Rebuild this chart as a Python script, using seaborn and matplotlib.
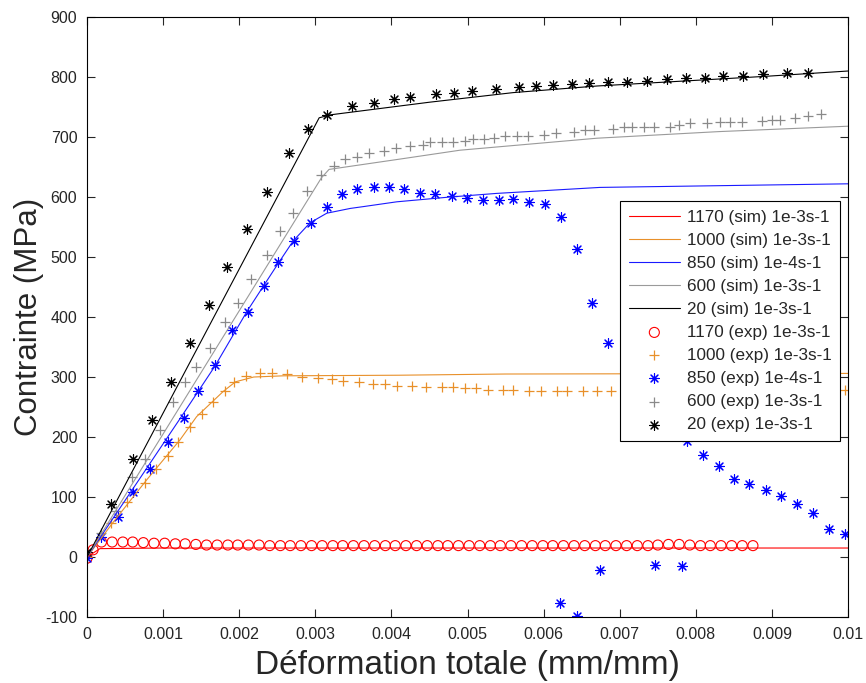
import matplotlib
matplotlib.use("Agg")
import matplotlib.pyplot as plt
import seaborn as sns

# ---- simulated curves (sim) ----
x_sim_1170 = [0, 0.00017, 0.001, 0.01]
y_sim_1170 = [0, 14, 15, 15]

x_sim_1000 = [0, 0.00035, 0.00078, 0.00122, 0.00144, 0.00179, 0.00195, 0.00219, 0.00258, 0.0041, 0.0055, 0.01]
y_sim_1000 = [0, 59, 128, 195, 234, 276, 292, 300, 302, 303, 305, 306]

x_sim_850 = [0, 0.00124, 0.00168, 0.0021, 0.00232, 0.00251, 0.00271, 0.00293, 0.00315, 0.00346, 0.00363,
             0.00407, 0.00477, 0.00538, 0.00674, 0.01]
y_sim_850 = [0, 234, 318, 409, 452, 489, 527, 557, 573, 581, 584, 592, 600, 606, 616, 622]

x_sim_600 = [0, 0.00308, 0.00318, 0.0041, 0.0049, 0.0067, 0.0083, 0.01]
y_sim_600 = [0, 632, 646, 663, 678, 698, 709, 718]

x_sim_20 = [0, 0.003, 0.00305, 0.0032, 0.0045, 0.0056, 0.0067, 0.0078, 0.0089, 0.01]
y_sim_20 = [0, 720, 732, 737, 758, 774, 785, 793, 801, 810]

# ---- experimental points (exp) ----
x_exp_1170 = [0, 0.00008, 0.00019, 0.00033, 0.00047, 0.00060, 0.00074, 0.00088, 0.00102, 0.00116, 0.00129,
              0.00143, 0.00157, 0.00171, 0.00185, 0.00198, 0.00212, 0.00226, 0.00240, 0.00254, 0.00267,
              0.00281, 0.00295, 0.00309, 0.00323, 0.00336, 0.00350, 0.00364, 0.00378, 0.00392, 0.00405,
              0.00419, 0.00433, 0.00447, 0.00461, 0.00474, 0.00488, 0.00502, 0.00516, 0.00530, 0.00543,
              0.00557, 0.00571, 0.00585, 0.00599, 0.00612, 0.00626, 0.00640, 0.00654, 0.00668, 0.00681,
              0.00695, 0.00709, 0.00723, 0.00737, 0.00750, 0.00764, 0.00778, 0.00792, 0.00806, 0.00819,
              0.00833, 0.00847, 0.00861, 0.00875]
y_exp_1170 = [-2, 12, 25, 25, 25, 25, 24, 23, 23, 22, 22,
              21, 20, 20, 20, 20, 20, 20, 19, 19, 19,
              19, 19, 19, 19, 19, 19, 19, 19, 19, 19,
              19, 19, 19, 19, 19, 19, 19, 19, 19, 19,
              19, 19, 19, 19, 19, 19, 19, 19, 19, 19,
              19, 19, 19, 19, 20, 21, 21, 20, 19, 19,
              19, 19, 19, 19]

x_exp_1000 = [0, 0.00032, 0.00053, 0.00076, 0.00091, 0.00106, 0.0012, 0.00135, 0.00151, 0.00165, 0.00181,
              0.00193, 0.00209, 0.00227, 0.00243, 0.00263, 0.00282, 0.00304, 0.00322, 0.00336, 0.00358,
              0.00376, 0.00392, 0.00407, 0.00427, 0.00446, 0.00466, 0.00481, 0.00497, 0.00511, 0.00527,
              0.00547, 0.0056, 0.00581, 0.00596, 0.00617, 0.00631, 0.00652, 0.0067, 0.00689, 0.00996]
y_exp_1000 = [0, 57, 91, 123, 146, 168, 191, 216, 238, 259, 276,
              291, 301, 307, 307, 305, 300, 299, 296, 293, 291,
              288, 288, 285, 285, 283, 283, 283, 281, 281, 278,
              278, 278, 277, 276, 277, 276, 276, 276, 277, 278]

x_exp_850 = [0, 0.00018, 0.00041, 0.0006, 0.00083, 0.00106, 0.00127, 0.00146, 0.00168, 0.0019, 0.00211,
             0.00232, 0.00251, 0.00272, 0.00294, 0.00315, 0.00335, 0.00355, 0.00377, 0.00397, 0.00417,
             0.00437, 0.00457, 0.00479, 0.00499, 0.0052, 0.00541, 0.0056, 0.00581, 0.00602, 0.00623,
             0.00644, 0.00664, 0.00685, 0.00788, 0.00809, 0.0083, 0.0085, 0.0087, 0.00892, 0.00912,
             0.00933, 0.00954, 0.00975, 0.00996,
             0.00621, 0.00644, 0.00674, 0.00746, 0.00782]
y_exp_850 = [-2, 34, 66, 108, 146, 191, 231, 276, 320, 378, 409,
             452, 491, 527, 557, 583, 605, 613, 616, 616, 613,
             607, 605, 602, 599, 595, 595, 596, 592, 589, 566,
             513, 423, 356, 193, 170, 152, 130, 121, 111, 102,
             88, 74, 47, 39,
             -76, -98, -22, -13, -15]

x_exp_600 = [0, 0.00019, 0.00038, 0.00059, 0.00076, 0.00096, 0.00113, 0.00129, 0.00143, 0.00161, 0.00181,
             0.00198, 0.00216, 0.00236, 0.00254, 0.0027, 0.00289, 0.00308, 0.00324, 0.00339, 0.00355,
             0.00371, 0.00390, 0.00406, 0.00425, 0.00441, 0.00451, 0.00466, 0.00481, 0.00497, 0.00507,
             0.00521, 0.00535, 0.00549, 0.00565, 0.0058, 0.006, 0.00616, 0.0064, 0.00654, 0.00666,
             0.00691, 0.00705, 0.00716, 0.00732, 0.00745, 0.00766, 0.00778, 0.00792, 0.00814, 0.00832,
             0.00845, 0.0086, 0.00887, 0.009, 0.00911, 0.0093, 0.00948, 0.00965]
y_exp_600 = [3, 40, 76, 134, 164, 212, 259, 291, 316, 349, 391,
             424, 464, 503, 544, 574, 610, 637, 651, 663, 667,
             673, 677, 682, 685, 687, 691, 691, 692, 694, 696,
             696, 698, 701, 701, 701, 703, 706, 709, 712, 712,
             714, 716, 716, 717, 717, 717, 720, 723, 724, 725,
             725, 725, 727, 728, 728, 732, 735, 738]

x_exp_20 = [0, 0.00032, 0.0006, 0.00085, 0.0011, 0.00135, 0.0016, 0.00184, 0.0021, 0.00236, 0.00266,
            0.00291, 0.00315, 0.00348, 0.00377, 0.00404, 0.00425, 0.00459, 0.00482, 0.00506, 0.00537,
            0.00568, 0.0059, 0.00612, 0.00637, 0.0066, 0.00685, 0.0071, 0.00736, 0.00762, 0.00787,
            0.00812, 0.00836, 0.00862, 0.00888, 0.0092, 0.00947]
y_exp_20 = [9, 88, 163, 228, 292, 357, 420, 483, 546, 609, 673,
            713, 737, 751, 757, 763, 767, 772, 774, 777, 780,
            784, 785, 787, 789, 790, 791, 792, 794, 796, 799,
            799, 802, 802, 805, 806, 807]

xticks = [0, 0.001, 0.002, 0.003, 0.004, 0.005, 0.006, 0.007, 0.008, 0.009, 0.01]
xtick_labels = ['0', '0.001', '0.002', '0.003', '0.004', '0.005', '0.006', '0.007', '0.008', '0.009', '0.01']
yticks = [-100, 0, 100, 200, 300, 400, 500, 600, 700, 800, 900]

sns.set_style("ticks")
plt.rcParams['font.family'] = ['Liberation Sans', 'DejaVu Sans']
plt.rcParams['axes.unicode_minus'] = False

fig = plt.figure(figsize=(8.66, 6.83), dpi=100)
ax = fig.add_axes([0.1005, 0.0966, 0.8788, 0.8785])

red = '#ff0000'
orange = '#e8902a'
blue = '#1a1aff'
gray = '#9a9a9a'
black = '#000000'
asterisk = (8, 2, 0)

# simulations
sims = [(x_sim_1170, y_sim_1170, red, '1170 (sim) 1e-3s-1'),
        (x_sim_1000, y_sim_1000, orange, '1000 (sim) 1e-3s-1'),
        (x_sim_850, y_sim_850, blue, '850 (sim) 1e-4s-1'),
        (x_sim_600, y_sim_600, gray, '600 (sim) 1e-3s-1'),
        (x_sim_20, y_sim_20, black, '20 (sim) 1e-3s-1')]
for xs, ys, c, lab in sims:
    sns.lineplot(x=xs, y=ys, color=c, linewidth=0.8, label=lab, ax=ax, sort=False, estimator=None)

# experiments
sns.scatterplot(x=x_exp_1170, y=y_exp_1170, marker='o', s=52, facecolor='none', edgecolor=red,
                linewidth=0.8, label='1170 (exp) 1e-3s-1', ax=ax)
sns.scatterplot(x=x_exp_1000, y=y_exp_1000, marker='+', s=55, color=orange, linewidth=0.9,
                label='1000 (exp) 1e-3s-1', ax=ax)
sns.scatterplot(x=x_exp_850, y=y_exp_850, marker=asterisk, s=50, color='#0000ff', linewidth=0.8,
                label='850 (exp) 1e-4s-1', ax=ax)
sns.scatterplot(x=x_exp_600, y=y_exp_600, marker='+', s=55, color='#8a8a8a', linewidth=0.9,
                label='600 (exp) 1e-3s-1', ax=ax)
sns.scatterplot(x=x_exp_20, y=y_exp_20, marker=asterisk, s=50, color=black, linewidth=0.8,
                label='20 (exp) 1e-3s-1', ax=ax)

ax.set_xlim(0, 0.01)
ax.set_ylim(-100, 900)
ax.set_xticks(xticks)
ax.set_xticklabels(xtick_labels)
ax.set_yticks(yticks)
ax.tick_params(direction='in', top=True, right=True, length=6, width=0.8, labelsize=11.5, pad=7)
for sp in ax.spines.values():
    sp.set_visible(True)
    sp.set_linewidth(0.8)
    sp.set_color('black')

ax.set_xlabel('Déformation totale (mm/mm)', fontsize=24, labelpad=6)
ax.set_ylabel('Contrainte (MPa)', fontsize=22.5, labelpad=1)

leg = ax.legend(loc='upper right', bbox_to_anchor=(0.9895, 0.693), fontsize=12.3, frameon=True,
                fancybox=False, edgecolor='black', framealpha=1, handlelength=3, labelspacing=0.47,
                borderpad=0.5, handletextpad=0.4, borderaxespad=0, scatterpoints=1)
leg.get_frame().set_linewidth(0.8)

fig.savefig('out.png', dpi=100)
